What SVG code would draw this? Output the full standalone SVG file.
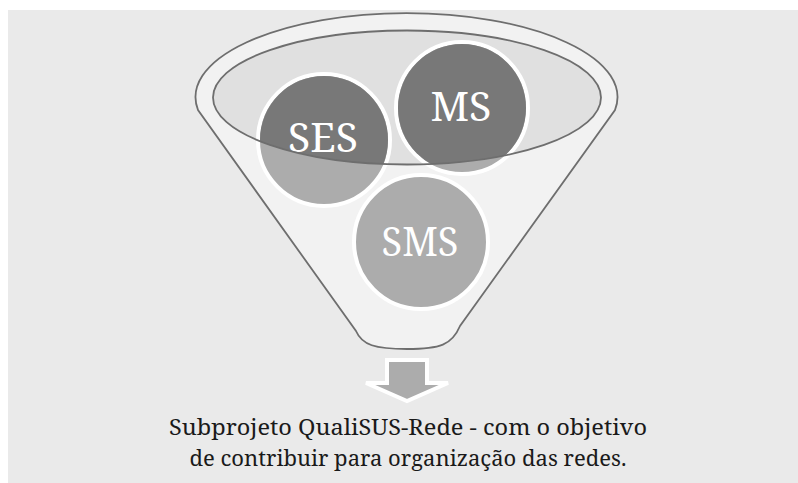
<svg xmlns="http://www.w3.org/2000/svg" width="798" height="483" viewBox="0 0 798 483">
  <style>
    .edge { stroke: #6e6e6e; stroke-width: 1.8; }
    .circ { fill: #acacac; stroke: #ffffff; stroke-width: 4; }
    .dark { fill: #787878; }
    .lbl { fill: #ffffff; text-anchor: middle; font-family: "Noto Serif", "DejaVu Serif", serif; font-size: 40px; }
    .cap { fill: #1a1a1a; text-anchor: middle; font-family: "Noto Serif", "DejaVu Serif", serif; font-size: 22px; }
  </style>
  <defs>
    <clipPath id="bowl">
      <ellipse cx="407" cy="97.5" rx="194" ry="67"/>
    </clipPath>
  </defs>
  <rect x="0" y="0" width="798" height="483" fill="#ffffff"/>
  <rect x="8" y="10" width="790" height="473" fill="#eaeaea"/>

  <g id="funnel">
    <path class="edge" fill="#f2f2f2" d="M198,110 A211,84 0 1,1 615,110 L460,326 C452,345 440,349 407,349 C375,349 362,345 356,331 Z"/>
    <ellipse cx="407" cy="97.5" rx="194" ry="67" fill="#e0e0e0"/>
  </g>

  <g id="node-ses">
    <circle class="circ" cx="324" cy="140" r="66"/>
    <circle class="dark" cx="324" cy="140" r="64" clip-path="url(#bowl)"/>
  </g>
  <g id="node-ms">
    <circle class="circ" cx="462" cy="108" r="66"/>
    <circle class="dark" cx="462" cy="108" r="64" clip-path="url(#bowl)"/>
  </g>
  <g id="node-sms">
    <circle class="circ" cx="421" cy="242" r="67"/>
    <text class="lbl" x="420" y="256" textLength="77" lengthAdjust="spacingAndGlyphs">SMS</text>
  </g>
  <g id="labels-top">
    <text class="lbl" x="323" y="152" textLength="70" lengthAdjust="spacingAndGlyphs">SES</text>
    <text class="lbl" x="461" y="121" textLength="61" lengthAdjust="spacingAndGlyphs">MS</text>
  </g>
  <g id="funnel-rim">
    <ellipse class="edge" cx="407" cy="97.5" rx="194" ry="67" fill="none"/>
  </g>

  <g id="connectors">
    <polygon points="387,360 427,360 427,383 448,383 407,401 366,383 387,383" fill="#acacac" stroke="#ffffff" stroke-width="4" stroke-linejoin="miter"/>
  </g>

  <g id="caption">
    <text class="cap" x="408" y="435" textLength="478" lengthAdjust="spacingAndGlyphs">Subprojeto QualiSUS-Rede - com o objetivo</text>
    <text class="cap" x="408" y="466" textLength="437" lengthAdjust="spacingAndGlyphs">de contribuir para organização das redes.</text>
  </g>
</svg>
